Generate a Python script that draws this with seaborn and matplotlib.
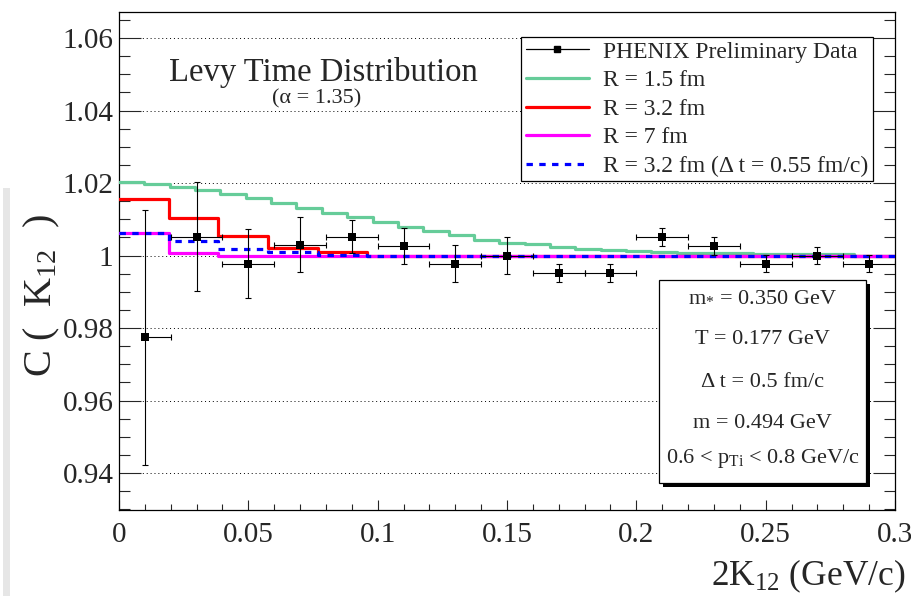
import matplotlib
matplotlib.use("Agg")
import matplotlib.pyplot as plt
from matplotlib.lines import Line2D
from matplotlib.patches import Rectangle
from matplotlib.ticker import MultipleLocator
import numpy as np
import seaborn as sns

# measured points (PHENIX preliminary)
k_points = [0.01, 0.03, 0.05, 0.07, 0.09, 0.11, 0.13, 0.15, 0.17, 0.19, 0.21, 0.23, 0.25, 0.27, 0.29]
c_points = [0.9775, 1.0052, 0.9978, 1.0030, 1.0052, 1.0026, 0.9978, 1.0000, 0.9952, 0.9952,
            1.0052, 1.0026, 0.9978, 1.0000, 0.9978]
c_err = [0.0352, 0.0150, 0.0095, 0.0076, 0.0045, 0.0050, 0.0050, 0.0050, 0.0025, 0.0025,
         0.0025, 0.0025, 0.0024, 0.0024, 0.0024]
k_err_low = [0.0, 0.01, 0.01, 0.01, 0.01, 0.01, 0.01, 0.01, 0.01, 0.01, 0.01, 0.01, 0.01, 0.01, 0.01]
k_err_high = [0.01] * 15

# model histograms (bin contents)
fine_bin = 0.0098
coarse_bin = 0.0192
r15_vals = [1.0203, 1.0197, 1.0190, 1.0181, 1.0170, 1.0159, 1.0145, 1.0131, 1.0117, 1.0106,
            1.0092, 1.0080, 1.0068, 1.0056, 1.0044, 1.0036, 1.0031, 1.0024, 1.0018, 1.0014,
            1.0012, 1.0009, 1.0008, 1.0006, 1.0006, 1.0004, 1.0004, 1.0004, 1.0004, 1.0000, 1.0000, 1.0000]
r32_vals = [1.0155, 1.0103, 1.0054, 1.0022, 1.0009, 1.0000, 1.0000, 1.0000, 1.0000, 1.0000,
            1.0000, 1.0000, 1.0000, 1.0000, 1.0000, 1.0000, 1.0000]
r7_vals = [1.0061, 1.0008, 1.0000, 1.0000, 1.0000, 1.0000, 1.0000, 1.0000, 1.0000, 1.0000,
           1.0000, 1.0000, 1.0000, 1.0000, 1.0000, 1.0000, 1.0000]
r32_dt_vals = [1.0061, 1.0040, 1.0018, 1.0009, 1.0002, 1.0000, 1.0000, 1.0000, 1.0000, 1.0000,
               1.0000, 1.0000, 1.0000, 1.0000, 1.0000, 1.0000, 1.0000]

y_ticks = [0.94, 0.96, 0.98, 1.00, 1.02, 1.04, 1.06]
y_tick_labels = ["0.94", "0.96", "0.98", "1", "1.02", "1.04", "1.06"]
x_ticks = [0, 0.05, 0.10, 0.15, 0.20, 0.25, 0.30]
x_tick_labels = ["0", "0.05", "0.1", "0.15", "0.2", "0.25", "0.3"]

legend_labels = ["PHENIX Preliminary Data", "R = 1.5 fm", "R = 3.2 fm", "R = 7 fm",
                 "R = 3.2 fm (\u0394 t = 0.55 fm/c)"]
param_lines = ["m$_{*}$ = 0.350 GeV", "T = 0.177 GeV", "\u0394 t = 0.5 fm/c", "m = 0.494 GeV",
               "0.6 < p$_{\\mathrm{Ti}}$ < 0.8 GeV/c"]

sns.set_theme(style="ticks")
plt.rcParams["font.family"] = ["Liberation Serif", "DejaVu Serif"]
plt.rcParams["mathtext.fontset"] = "custom"
plt.rcParams["mathtext.rm"] = "Liberation Serif"
plt.rcParams["mathtext.it"] = "Liberation Serif:italic"
plt.rcParams["mathtext.default"] = "rm"

GREEN = "#66cc99"
LW = 2.3


def step_xy(vals, width):
    edges = np.arange(len(vals) + 1) * width
    return edges, np.append(vals, vals[-1])


fig = plt.figure(figsize=(9.12, 5.96), dpi=100)
ax = fig.add_axes([0.1305, 0.1443, 0.8509, 0.8356])

ax.yaxis.grid(True, linestyle=(0, (1, 3)), color="black", linewidth=0.7)
ax.xaxis.grid(False)

for vals, width, color, style in [
    (r15_vals, fine_bin, GREEN, "-"),
    (r32_vals, coarse_bin, "red", "-"),
    (r7_vals, coarse_bin, "magenta", "-"),
    (r32_dt_vals, coarse_bin, "blue", (0, (2, 2))),
]:
    xs, ys = step_xy(vals, width)
    sns.lineplot(x=xs, y=ys, drawstyle="steps-post", color=color, linewidth=LW,
                 linestyle=style, estimator=None, sort=False, ax=ax, zorder=3)

ax.errorbar(k_points, c_points, yerr=c_err, xerr=[k_err_low, k_err_high], fmt="none",
            ecolor="black", elinewidth=0.8, capsize=2.5, capthick=0.8, zorder=4)
sns.scatterplot(x=k_points, y=c_points, marker="s", s=40, color="black", edgecolor="black",
                linewidth=0, ax=ax, zorder=5)

ax.set_xlim(0, 0.3)
ax.set_ylim(0.9298, 1.0672)
ax.set_xticks(x_ticks)
ax.set_xticklabels(x_tick_labels)
ax.set_yticks(y_ticks)
ax.set_yticklabels(y_tick_labels)
ax.xaxis.set_minor_locator(MultipleLocator(0.01))
ax.yaxis.set_minor_locator(MultipleLocator(0.005))
ax.tick_params(axis="y", which="major", direction="in", length=15.5, width=0.8,
               right=True, labelsize=21, pad=4)
ax.tick_params(axis="y", which="minor", direction="in", length=8, width=0.8, right=True)
ax.tick_params(axis="x", which="major", direction="in", length=7.5, width=0.8,
               labelsize=21, pad=9)
ax.tick_params(axis="x", which="minor", direction="in", length=4, width=0.8)
for s in ax.spines.values():
    s.set_color("black")
    s.set_linewidth(0.9)

ax.set_ylabel("C (  K$_{12}$  )", fontsize=29)
ax.yaxis.label.set(ha="center", va="center")
ax.yaxis.set_label_coords(-0.1, 0.43)
ax.set_xlabel("2K$_{12}$ (GeV/c)", fontsize=25.5)
ax.xaxis.label.set(ha="right", va="center")
ax.xaxis.set_label_coords(1.013, -0.134)

ax.text(0.263, 0.8775, "Levy Time Distribution", transform=ax.transAxes, fontsize=23.5,
        ha="center", va="center")
ax.text(0.255, 0.825, "(\u03b1 = 1.35)", transform=ax.transAxes, fontsize=16,
        ha="center", va="center")

handles = [
    Line2D([], [], color="black", linewidth=0.9, marker="s", markersize=4.5),
    Line2D([], [], color=GREEN, linewidth=LW),
    Line2D([], [], color="red", linewidth=LW),
    Line2D([], [], color="magenta", linewidth=LW),
    Line2D([], [], color="blue", linewidth=LW, linestyle=(0, (2, 2))),
]
leg = ax.legend(handles, legend_labels, loc="upper right", bbox_to_anchor=(0.9716, 0.95),
                fontsize=17, frameon=True, fancybox=False, framealpha=1, edgecolor="black",
                handlelength=2.7, handletextpad=0.6, labelspacing=0.3, borderpad=0.18,
                borderaxespad=0)
leg.get_frame().set_linewidth(0.9)
leg.set_zorder(6)

# parameter box with drop shadow
bx0, bx1, by0, by1 = 0.696, 0.9626, 0.0542, 0.4618
ax.add_patch(Rectangle((bx0 + 0.0055, by0 - 0.0085), bx1 - bx0, by1 - by0, transform=ax.transAxes,
                       facecolor="black", edgecolor="black", linewidth=0, zorder=6))
ax.add_patch(Rectangle((bx0, by0), bx1 - bx0, by1 - by0, transform=ax.transAxes,
                       facecolor="white", edgecolor="black", linewidth=0.9, zorder=7))
for yy, line in zip([0.4277, 0.3414, 0.257, 0.1727, 0.1044], param_lines):
    ax.text((bx0 + bx1) / 2, yy, line, transform=ax.transAxes, fontsize=16, ha="center",
            va="center", zorder=8)

fig.add_artist(Rectangle((0.003, 0.0), 0.008, 0.685, transform=fig.transFigure,
                         facecolor="#e6e6e6", edgecolor="none"))

fig.savefig("out.png", dpi=100)
